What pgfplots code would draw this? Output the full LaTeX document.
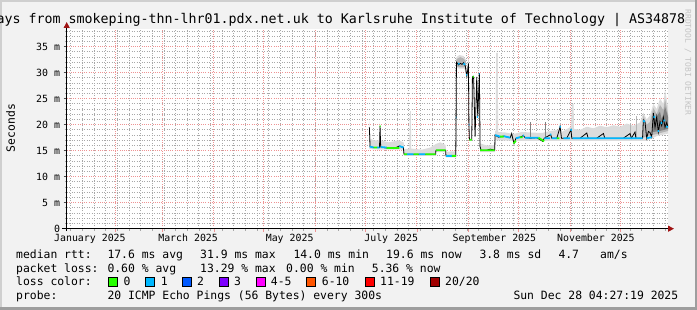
\documentclass[border=0pt]{standalone}
\usepackage{pgfplots}
\pgfplotsset{compat=1.18}
\usepackage{fontspec}
\setmainfont{DejaVu Sans Mono}
\usetikzlibrary{arrows.meta}
\definecolor{bgc}{HTML}{F2F2F2}
\definecolor{shadea}{HTML}{CFCFCF}
\definecolor{shadeb}{HTML}{9E9E9E}
\definecolor{mgridc}{HTML}{EE9494}
\definecolor{gridc}{HTML}{A8A8A8}
\definecolor{arrowc}{HTML}{A01414}
\definecolor{l0}{HTML}{26FF00}
\definecolor{l1}{HTML}{00B8FF}
\definecolor{l2}{HTML}{0059FF}
\definecolor{l3}{HTML}{7E00FF}
\definecolor{l4}{HTML}{FF00FF}
\definecolor{l6}{HTML}{FF5500}
\definecolor{l11}{HTML}{FF0000}
\definecolor{l20}{HTML}{A10000}
\definecolor{smokeA}{HTML}{DCDCDC}
\definecolor{smokeB}{HTML}{B4B4B4}
\definecolor{smokeC}{HTML}{808080}
\definecolor{wmark}{HTML}{C4C4C4}
\newcommand{\titlefont}{\fontsize{13.3}{15}\selectfont}
\newcommand{\legfont}{\fontsize{11.4}{13}\selectfont}
\newcommand{\tickfont}{\fontsize{9.9}{11}\selectfont}
\pgfplotsset{
  rrdbox/.style={
    at={(66.7pt,81.3pt)}, anchor=south west,
    scale only axis, width=601.3pt, height=199.7pt,
    xmin=1.56, xmax=362.8, ymin=0, ymax=38.4,
  }
}
\begin{document}
\begin{tikzpicture}[x=1pt,y=1pt]
\useasboundingbox (0,0) rectangle (697,310);
\clip (0,0) rectangle (697,310);
\fill[bgc] (0,0) rectangle (697,310);
\fill[shadea] (0,308) rectangle (697,310);
\fill[shadea] (0,0) rectangle (2,310);
\fill[shadeb] (695,0) rectangle (697,310);
\fill[shadeb] (0,0) rectangle (697,3);
% title
\node[anchor=base west, inner sep=0, font=\titlefont] at (-27.7,286.7) {Delays from smokeping-thn-lhr01.pdx.net.uk to Karlsruhe Institute of Technology | AS34878};
% watermark
\node[rotate=-90, inner sep=0, font=\fontsize{8}{9}\selectfont, text=wmark] at (688,247.5) {RRDTOOL / TOBI OETIKER};
% y label
\node[rotate=90, inner sep=0, font=\legfont] at (10.5,182) {Seconds};
% ---- minor grid (weeks, 1 ms) ----
\begin{axis}[rrdbox,
  axis background/.style={fill=white},
  axis x line*=bottom, axis y line*=left,
  axis line style={draw=none},
  xtick={4,11,...,361}, xticklabels={},
  ytick={1,2,3,4,6,7,8,9,11,12,13,14,16,17,18,19,21,22,23,24,26,27,28,29,31,32,33,34,36,37,38},
  yticklabels={},
  xmajorgrids, ymajorgrids,
  major grid style={draw=gridc, line width=0.9pt, dash pattern=on 1pt off 1.5pt},
  tick align=outside, major tick length=2pt,
  tick style={draw=gridc, line width=0.8pt},
]
\addplot[draw=none] coordinates {(2,0) (362,0)};
\end{axis}
% ---- main axis ----
\begin{axis}[rrdbox,
  axis x line*=bottom, axis y line*=left,
  x axis line style={draw=black, line width=0.9pt, shorten <=-4.7pt, shorten >=-6pt, -{Triangle[length=6pt,width=6pt,color=arrowc,fill=arrowc]}},
  y axis line style={draw=black, line width=0.9pt, shorten <=-2.5pt, shorten >=-7pt, -{Triangle[length=6pt,width=6pt,color=arrowc,fill=arrowc]}},
  xtick={31,59,90,120,151,181,212,243,273,304,334},
  xticklabels={},
  extra x ticks={15.5,74.5,135.5,196.5,258.5,319.5},
  extra x tick labels={January 2025,March 2025,May 2025,July 2025,September 2025,November 2025},
  extra x tick style={grid=none, major tick length=0pt},
  ytick={0,5,...,35},
  yticklabels={0,5 m,10 m,15 m,20 m,25 m,30 m,35 m},
  xmajorgrids, ymajorgrids,
  major grid style={draw=mgridc, line width=1pt, dash pattern=on 1pt off 1.2pt},
  tick align=outside, major tick length=3pt,
  major x tick style={draw=mgridc, line width=0.8pt},
  major y tick style={draw=black!70, line width=0.8pt},
  xticklabel style={font=\tickfont, anchor=base, yshift=-13pt, inner sep=0pt},
  yticklabel style={font=\tickfont, anchor=east, inner sep=0pt, xshift=-3.5pt},
  /pgf/number format/assume math mode=true,
  unbounded coords=jump,
]
% ---- smoke (light) ----
\addplot[draw=none, fill=smokeA] coordinates {
 (183.4,20.9) (183.9,17.3) (186,17.0) (189.4,17.0) (189.7,20.5) (190.3,17.0) (195,16.6) (201,17.0) (204,16.6)
 (204.3,15.3) (207.4,15.4) (207.7,22.6) (208.3,22.6) (208.5,15.4) (215,15.2) (220,15.6) (223.4,16.3) (226,16.6)
 (229.2,16.1) (229.5,14.8) (235.2,14.9) (235.5,22.5) (235.7,33.0) (237.5,33.4) (240,33.2) (241.3,32.5)
 (241.9,30.3) (242.4,31.0) (242.9,32.6) (243.2,32.6)
 (243.2,30.5) (242.5,29.3) (241.9,28.9) (240.5,30.8) (237,30.8) (235.8,31.0) (235.6,13.7) (229.4,13.7)
 (229.3,14.7) (223.4,14.7) (223.3,14.0) (204.3,14.0) (204.1,15.2) (190.3,15.2) (189.9,15.2) (183.8,15.3) (183.4,15.3)
};
\addplot[draw=none, fill=smokeA] coordinates {
 (249.9,16.4) (254,16.0) (258.7,16.1) (259.0,18.8) (259.4,18.8) (259.5,33.8) (260.6,33.8) (260.7,18.6)
 (265,18.5) (270,18.2) (275,18.6) (280,18.5) (287,18.4) (292,18.8) (297,19.0) (298,20.3) (299,18.6)
 (304.5,19.6) (305.2,24.0) (306.1,24.0) (306.3,19.2) (310,19.0) (314,19.6) (318,19.3) (322,19.8)
 (326,19.5) (330,19.9) (334,19.6) (338,20.2) (342,19.8) (346,20.4) (348,22.3) (350,21.0) (352,21.8)
 (354,24.0) (356,23.0) (358,25.0) (360,24.0) (361,26.7) (362.8,23.5)
 (362.8,18.3) (356,17.8) (350,16.9) (300,16.9) (271,16.9) (270.3,15.9) (269.5,16.9) (259,17.0)
 (258.8,14.7) (249.9,14.7)
};
% ---- smoke (medium) ----
\addplot[draw=none, fill=smokeB] coordinates {
 (235.7,32.6) (238,33.0) (240,32.7) (241.3,32.2) (241.3,31.0) (238,31.0) (235.7,31.2)
};
\addplot[draw=none, fill=smokeB] coordinates {
 (347.5,18.0) (348,21.8) (350,20.0) (352,20.5) (354,23.2) (356,22.0) (358,23.8) (360,22.8) (361,25.0) (362.8,22.0)
 (362.8,18.8) (356,18.2) (350,17.8) (347.5,17.4)
};
% ---- smoke (dark) ----
\addplot[draw=none, fill=smokeC] coordinates {
 (353.5,18.5) (354,22.5) (355,21.0) (356,21.6) (358,22.5) (359,21.0) (360,22.0) (361,23.5) (362.8,21.5)
 (362.8,19.2) (358,18.8) (354,18.6) (353.5,18.5)
};
\addplot[smokeC, line width=0.8pt] coordinates {(279.9,17.4) (279.9,20.6)};
\addplot[smokeC, line width=0.8pt] coordinates {(288.9,17.4) (288.9,20.6)};
\addplot[smokeB, line width=0.8pt] coordinates {(340.2,17.4) (340.2,20.3)};
\addplot[smokeB, line width=0.8pt] coordinates {(343.6,17.4) (343.6,21.6)};
% ---- median (black) ----
\addplot[black, line width=0.8pt] coordinates {
 (183.4,19.5) (183.8,15.8) (186,15.6) (188,15.6) (189.5,15.6) (189.8,19.7) (190.2,15.7) (194,15.5)
 (198,15.4) (201.4,15.9) (203.8,15.6) (204.2,14.3) (208,14.3) (212,14.3) (216,14.3) (220,14.3)
 (223.2,14.3) (223.4,15.1) (226,15.1) (229.2,15.1) (229.4,14.0) (232,14.0) (235.3,14.0) (235.5,21.4)
 (235.7,32.0) (237,31.5) (238,31.8) (239,31.6) (240,31.9) (241,31.3) (241.9,29.4) (242.5,30.5)
 (242.9,31.8) (243.2,19.9) (243.5,17.1) (244.9,17.1) (245.3,29.2) (246,29.3) (246.9,17.7) (247.9,29.2)
 (248.5,21.5) (249.5,29.9) (249.9,15.8) (250.5,15.1) (254,15.1) (256,15.3) (258.7,15.1) (258.9,18.0)
 (261,17.6) (264,17.8) (268,17.5) (268.9,18.3) (269.5,17.4) (270.3,16.4) (271.5,17.4) (274,17.6)
 (275.9,17.9) (277,17.5) (280,17.4) (284,17.5) (287.5,16.8) (288.5,17.4) (292.3,18.1) (293,17.4)
 (296,17.4) (298,19.6) (298.8,17.4) (302,17.4) (304.5,19.0) (305,17.4) (310,17.4) (314,18.4)
 (314.8,17.4) (320,17.4) (324,18.3) (324.8,17.4) (330,17.4) (336,17.4) (340,18.3) (340.8,17.4)
 (343,18.6) (343.5,17.4) (347.5,17.4) (348,20.9) (349,20.5) (350,17.4) (351,18.7) (352,18.5)
 (353,17.6) (354,22.2) (355,19.5) (356,21.5) (357,18.6) (358,20.6) (359,19.8) (360,21.4)
 (361,19.5) (362,20.4) (362.7,19.6)
};
% ---- loss 1 colour ----
\addplot[l1, line width=1.8pt] coordinates {
 (183.6,15.8) (186,15.6) (186,nan)
 (188,15.6) (189.5,15.6) (189.5,nan)
 (190.3,15.7) (193.8,15.6) (193.8,nan)
 (201.4,15.9) (203.9,15.6) (203.9,nan)
 (206,14.3) (210,14.3) (210,nan)
 (213,14.3) (217,14.3) (217,nan)
 (229.5,14.0) (233,14.0) (233,nan)
 (235.35,21.4) (235.65,21.4) (235.65,nan)
 (236.5,31.7) (237.6,31.7) (237.6,nan)
 (240,31.8) (240.8,31.5) (240.8,nan)
 (241.5,29.6) (242.1,29.6) (242.1,nan)
 (243.0,20.0) (243.4,20.0) (243.4,nan)
 (248.2,21.5) (248.8,21.5) (248.8,nan)
 (249.2,29.8) (249.7,29.8) (249.7,nan)
 (259.0,18.0) (262,17.7) (262,nan)
 (264,17.8) (268,17.5) (268,nan)
 (271.5,17.4) (274,17.6) (274,nan)
 (275.6,17.9) (276.4,17.9) (276.4,nan)
 (277,17.5) (285,17.5) (285,nan)
 (288.5,17.4) (292,17.4) (292,nan)
 (292,18.1) (292.8,18.1) (292.8,nan)
 (293,17.4) (296,17.4) (296,nan)
 (297.7,19.6) (298.5,19.6) (298.5,nan)
 (300,17.4) (304,17.4) (304,nan)
 (304.2,19.0) (305,19.0) (305,nan)
 (305.5,17.4) (347.5,17.4) (347.5,nan)
 (347.8,20.7) (349,20.6) (349,nan)
 (350,17.4) (353,17.6) (353,nan)
 (354,21.5) (355,21.5) (355,nan)
 (356.6,18.8) (357.4,18.8) (357.4,nan)
 (358.4,20.3) (359.2,20.3) (359.2,nan)
 (360,20.8) (361,20.8) (361,nan)
 (361.5,19.6) (362.7,19.6)
};
% ---- loss 0 colour ----
\addplot[l0, line width=1.8pt] coordinates {
 (186,15.6) (188,15.6) (188,nan)
 (189.6,19.7) (190.1,19.7) (190.1,nan)
 (193.8,15.5) (201.4,15.5) (201.4,nan)
 (204.3,14.3) (206,14.3) (206,nan)
 (210,14.3) (213,14.3) (213,nan)
 (217,14.3) (223.2,14.3) (223.2,nan)
 (223.5,15.1) (229.2,15.1) (229.2,nan)
 (233,14.0) (235.3,14.0) (235.3,nan)
 (243.5,17.1) (244.9,17.1) (244.9,nan)
 (245.4,29.2) (246.2,29.2) (246.2,nan)
 (250,15.1) (258.7,15.1) (258.7,nan)
 (262,17.7) (264,17.7) (264,nan)
 (270,16.4) (271.4,16.9) (271.4,nan)
 (274,17.6) (275.5,17.6) (275.5,nan)
 (285,17.5) (288.4,16.8) (288.4,nan)
 (296,17.4) (297.6,17.4)
};
\end{axis}
% ---- legend ----
\begin{scope}[every node/.style={anchor=base west, inner sep=0, font=\legfont}]
\node at (16,51.7) {median rtt:};
\node at (107.3,51.7) {17.6 ms avg};
\node at (200,51.7) {31.9 ms max};
\node at (293.3,51.7) {14.0 ms min};
\node at (386,51.7) {19.6 ms now};
\node at (479.3,51.7) {3.8 ms sd};
\node at (558.3,51.7) {4.7};
\node at (600,51.7) {am/s};
\node at (16,37.7) {packet loss:};
\node at (107.3,37.7) {0.60 \% avg};
\node at (200,37.7) {13.29 \% max};
\node at (286,37.7) {0.00 \% min};
\node at (371.7,37.7) {5.36 \% now};
\node at (16,24) {loss color:};
\node at (123.3,24) {0};
\node at (160.7,24) {1};
\node at (197,24) {2};
\node at (234,24) {3};
\node at (270.7,24) {4-5};
\node at (321.7,24) {6-10};
\node at (380,24) {11-19};
\node at (445,24) {20/20};
\node at (16,10) {probe:};
\node at (107.3,10) {20 ICMP Echo Pings (56 Bytes) every 300s};
\node at (513.3,10) {Sun Dec 28 04:27:19 2025};
\end{scope}
\foreach \xx/\cc in {108.3/l0,145.7/l1,182.7/l2,219.3/l3,256.7/l4,306.7/l6,365/l11,430/l20}{
  \filldraw[fill=\cc, draw=black, line width=0.8pt] (\xx,23.3) rectangle ++(9,9);
}
\end{tikzpicture}
\end{document}
